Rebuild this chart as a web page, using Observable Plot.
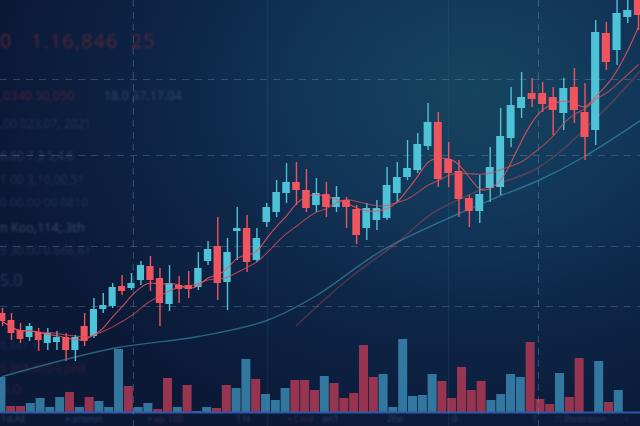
<!DOCTYPE html>
<html>
<head>
<meta charset="utf-8">
<script src="https://cdn.jsdelivr.net/npm/d3@7"></script>
<script src="https://cdn.jsdelivr.net/npm/@observablehq/plot@0.6"></script>
<style>
  html, body { margin: 0; padding: 0; }
  body { width: 640px; height: 426px; overflow: hidden;
    background: radial-gradient(ellipse 75% 85% at 74% 22%, #16455f 0%, #123759 32%, #0e2648 62%, #0b1937 100%);
    font-family: "Noto Sans", Roboto, sans-serif; }
  #wrap { position: relative; width: 640px; height: 426px; }
  #wrap > div.layer { position: absolute; left: 0; top: 0; }
  .lbl { position: absolute; white-space: pre; filter: blur(0.8px); line-height: 1; }
</style>
</head>
<body>
<div id="wrap">
  <div class="layer" id="texts" style="width:640px;height:426px"></div>
  <div class="layer" id="vol"></div>
  <div class="layer" id="price"></div>
</div>
<script>
// ---- price candles (one per day) ----
const firstDay = 60;
const open  = [68.25,66.5,64,62.25,63.5,60.75,61,62.25,59,65, 62.5,69.25,70,75,74.5,76.5,80,77,70.5,75.25, 75.25,74.75,81.25,85,76,88.75,89.5,81.5,91,93.5, 98.25,101,99,95.25,98,94.75,96.5,94.25,89.5,91.5, 92,98.25,102.25,104,110,116,106.75,103.75,97,93.75, 99.5,99.75,112,119.5,123.25,123.25,122.25,118.25,124.75,118.5, 114,138.25,134,142.25,146.5];
const close = [66.25,63.25,61.75,65,61.5,63.25,62.25,59,62.25,61.25, 69.25,70.25,74.75,73.75,75.75,80.25,76.5,70.75,75.75,74.25, 74.25,79.5,84.25,75.75,83.5,89.5,81,87,94.75,98.5, 101,99,94.5,98.25,94.75,97.25,94.75,87.75,94.5,94.5, 100.25,102.25,104.5,110.5,116,101.75,103.25,96.75,93.75,98, 104.75,112.5,120.25,122.25,121.75,120.5,119,124.5,119,112.25, 138.5,131,143.25,144,142.75];
const high  = [69.5,68.25,65.75,65.75,64.5,64.5,63.75,63.25,62.75,68.25, 72,73.25,75.75,77.75,78.25,81.25,82.5,79.5,80.25,77.5, 78.75,83.5,86.25,92.25,87,94.75,92.75,89.5,95.75,101.5, 105.75,106,104.25,102,101,100,97.25,95.25,95.75,96.5, 104.75,106,111.5,113.25,120.75,118.5,111,106.5,97.75,102.75, 109.75,119.5,124.75,128.5,127,126,124.75,127,129.5,125.75, 141.5,141,147,147,148];
const low   = [65,61.5,60.75,61.25,58.75,59,59,56.25,56.25,60, 62,68.25,69.5,72.75,74,75.25,73.75,65,68.75,70.75, 72,74,80.25,71.5,69,81.5,78.5,81,89.75,92.25, 95.75,95.25,93.5,93.5,92.25,93.5,89.5,85.5,86.5,89, 91.5,96,101.5,103.25,109,99.75,99.75,92.25,89.75,90.75, 96,97.75,109.75,117,119.75,118.5,112.75,114,115.75,106.5, 110.25,129,130.25,140.75,139];

// ---- long-term average curves ----
const slowDays   = [60, 72, 81, 88, 93, 99.5, 107, 110.6, 114.6, 118.8, 124.2];
const slowValues = [52.5, 59.5, 62.5, 66.5, 72.75, 84, 93.25, 97.25, 101.5, 107.25, 116.5];
const midDays    = [91, 96, 101, 104.4, 108.9, 114.6, 120.3, 124.2];
const midValues  = [65.25, 76.5, 86, 93.25, 99, 104.75, 117.75, 129];

// ---- volume bars ----
const volume = [350,60,60,90,140,50,150,200,50,150, 110,50,630,260,50,90,30,340,50,270, 10,50,40,270,240,530,330,180,120,240, 320,320,220,360,290,140,190,670,350,380, 50,730,160,170,380,310,140,450,220,310, 120,180,380,350,700,130,80,390,150,540, 0,510,100,220];
const volumeDir = ["up","down","down","up","up","up","up","down","up","down", "up","up","up","down","up","up","down","down","up","down", "up","up","down","down","up","up","down","up","up","up", "down","down","down","up","down","down","down","down","down","up", "up","up","up","up","up","down","down","down","down","down", "up","up","up","up","down","down","down","up","down","down", "up","up","down","up"];

// ---- grid ----
const gridPrices = [126.75, 107.75, 85, 70];
const gridDaysDashed = [74.2, 114.6];
const gridDaysFaint = [88.1, 106];

// ---- decorative texts ----
const sideTexts = [
  {t:"0   1.16,846  25", x:0, y:31, s:20, c:"rgba(150,45,55,0.5)", ls:1},
  {t:",0340 50,050", x:0, y:90, s:12.5, c:"rgba(150,45,55,0.45)"},
  {t:"18.0 37.17.04", x:104, y:90, s:12.5, c:"rgba(120,140,170,0.32)"},
  {t:",00 023,07, 2021", x:0, y:118, s:12, c:"rgba(110,130,165,0.22)"},
  {t:"6.60 7.3 5,4.6", x:0, y:150, s:12, c:"rgba(120,140,170,0.28)"},
  {t:"1 00 3,10,00,51", x:0, y:174, s:12, c:"rgba(110,130,165,0.22)"},
  {t:"0 00.00 00 0810", x:0, y:197, s:12, c:"rgba(110,130,165,0.2)"},
  {t:"n Koo,114;.3th", x:0, y:222, s:12.5, c:"rgba(130,150,180,0.36)"},
  {t:"5 30.00 0.666,61", x:0, y:245, s:12, c:"rgba(110,130,165,0.22)"},
  {t:"5.0", x:0, y:272, s:16, c:"rgba(120,140,170,0.28)"},
  {t:"0,1d1 1,1", x:0, y:339, s:11, c:"rgba(110,130,165,0.2)"},
  {t:"5 368 330 0 phd", x:0, y:362, s:11.5, c:"rgba(140,45,55,0.35)"},
  {t:"5.0", x:0, y:381, s:15, c:"rgba(140,45,55,0.3)"},
  {t:"1d.AE", x:1, y:414, s:9.5, c:"rgba(120,140,170,0.35)"},
  {t:"▪ ansmn", x:66, y:414, s:9.5, c:"rgba(110,150,190,0.35)"},
  {t:"▪ ap 100", x:148, y:414, s:9.5, c:"rgba(150,80,95,0.4)"},
  {t:"11t", x:236, y:414, s:9.5, c:"rgba(120,140,170,0.35)"},
  {t:"▪ Cold", x:288, y:414, s:9.5, c:"rgba(150,80,95,0.35)"},
  {t:"on1", x:322, y:414, s:9.5, c:"rgba(120,140,170,0.35)"},
  {t:"2he", x:387, y:414, s:9.5, c:"rgba(120,140,170,0.35)"},
  {t:"0", x:452, y:414, s:9.5, c:"rgba(120,140,170,0.35)"},
  {t:"1", x:532, y:414, s:9.5, c:"rgba(120,140,170,0.35)"},
  {t:"□ Invention", x:556, y:414, s:9.5, c:"rgba(120,140,170,0.3)"},
  {t:"i", x:625, y:414, s:9.5, c:"rgba(120,140,170,0.3)"}
];

const UP = "#4ec3d8", DOWN = "#f0545e";

const candles = open.map((o, i) => ({
  day: firstDay + i, open: o, high: high[i], low: low[i], close: close[i],
  dir: close[i] >= o ? "up" : "down"
}));
const slow = slowDays.map((d, i) => ({day: d, value: slowValues[i]}));
const mid = midDays.map((d, i) => ({day: d, value: midValues[i]}));
const vols = volume.map((v, i) => ({k: i, v, dir: volumeDir[i]}));

// text layer
const tl = document.getElementById("texts");
for (const s of sideTexts) {
  const e = document.createElement("div");
  e.className = "lbl";
  e.textContent = s.t;
  e.style.left = s.x + "px"; e.style.top = s.y + "px";
  e.style.fontSize = s.s + "px"; e.style.color = s.c;
  if (s.ls) e.style.letterSpacing = s.ls + "px";
  tl.appendChild(e);
}

// volume plot
const volPlot = Plot.plot({
  width: 640, height: 426,
  marginTop: 332, marginBottom: 14, marginLeft: 0, marginRight: 0,
  style: {background: "transparent", overflow: "visible"},
  x: {type: "linear", domain: [0, 64], range: [-4, 623.2], axis: null},
  y: {domain: [0, 800], axis: null},
  color: {domain: ["up", "down"], range: ["#3a87b0", "#b03a55"]},
  marks: [
    Plot.rectY(vols, {x1: "k", x2: d => d.k + 1, y: "v", fill: "dir", fillOpacity: 0.85, insetLeft: 0.4, insetRight: 0.4}),
    Plot.ruleY([0], {stroke: "#2f58a6", strokeWidth: 2})
  ]
});
document.getElementById("vol").appendChild(volPlot);

// price plot
const pricePlot = Plot.plot({
  width: 640, height: 426, margin: 0,
  style: {background: "transparent", overflow: "visible"},
  x: {type: "pow", exponent: 1.25, domain: [60, 124], range: [2, 638], axis: null},
  y: {domain: [40, 146.5], axis: null},
  color: {domain: ["up", "down"], range: [UP, DOWN]},
  marks: [
    Plot.ruleY(gridPrices, {stroke: "#8fb0cf", strokeOpacity: 0.28, strokeDasharray: "7,6"}),
    Plot.ruleX(gridDaysDashed, {stroke: "#8fb0cf", strokeOpacity: 0.32, strokeDasharray: "7,5"}),
    Plot.ruleX(gridDaysFaint, {stroke: "#8fb0cf", strokeOpacity: 0.1}),
    Plot.line(slow, {x: "day", y: "value", curve: "catmull-rom", stroke: "#3fa3b8", strokeOpacity: 0.55, strokeWidth: 1.4}),
    Plot.line(mid, {x: "day", y: "value", curve: "catmull-rom", stroke: "#c8505c", strokeOpacity: 0.35, strokeWidth: 1.6}),
    Plot.ruleX(candles, {x: "day", y1: "low", y2: "high", stroke: "dir", strokeWidth: 1.4}),
    Plot.rect(candles, {x1: d => d.day - 0.38, x2: d => d.day + 0.38, y1: "open", y2: "close", fill: "dir"}),
    Plot.lineY(candles, Plot.windowY({k: 9, anchor: "end"}, {x: "day", y: "close", curve: "basis", stroke: "#d9505a", strokeOpacity: 0.75, strokeWidth: 1.1})),
    Plot.lineY(candles, Plot.windowY({k: 5, anchor: "end"}, {x: "day", y: "close", curve: "basis", stroke: "#ec5560", strokeOpacity: 0.85, strokeWidth: 1.1}))
  ]
});
document.getElementById("price").appendChild(pricePlot);
</script>
</body>
</html>
